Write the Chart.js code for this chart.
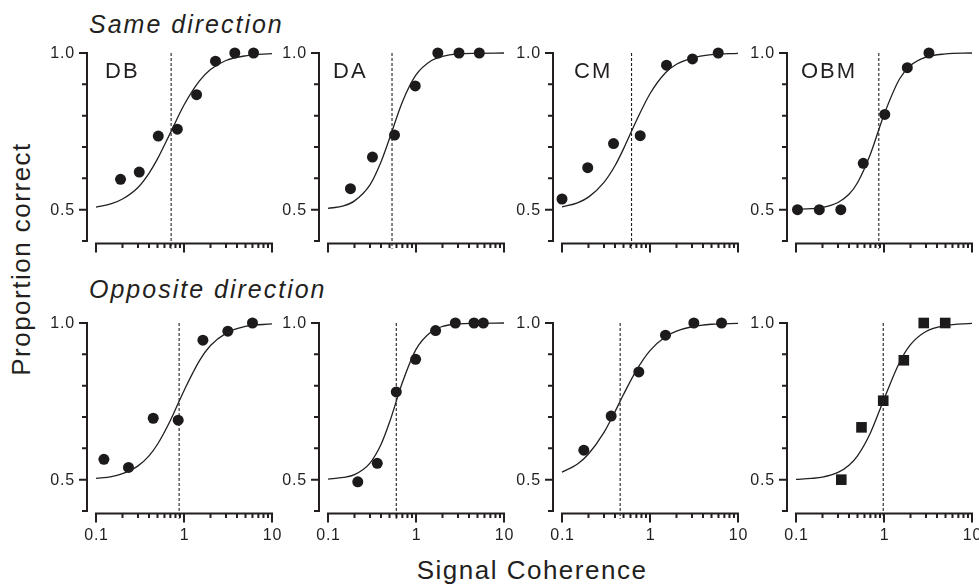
<!DOCTYPE html>
<html>
<head>
<meta charset="utf-8">
<script src="https://cdn.jsdelivr.net/npm/chart.js@4.4.1/dist/chart.umd.min.js"></script>
<style>
    body { margin: 0; width: 979px; height: 585px; background: #fff; position: relative; overflow: hidden;
           font-family: "Liberation Sans", Arial, sans-serif; color: #231f20; }
    canvas { position: absolute; }
    .txt { position: absolute; white-space: nowrap; line-height: 1; }
    .row-title { font-size: 25px; font-style: italic; letter-spacing: 2px; left: 89px; }
    .axis-title { font-size: 26px; letter-spacing: 1.5px; }
</style>
</head>
<body>
<div class="txt row-title" style="top: 12px;">Same direction</div>
<div class="txt row-title" style="top: 277px;">Opposite direction</div>
<div class="txt axis-title" style="left: 21px; top: 259px; transform: translate(-50%, -50%) rotate(-90deg);">Proportion correct</div>
<div class="txt axis-title" style="left: 532px; top: 557px; transform: translateX(-50%);">Signal Coherence</div>

<script>
// observers (top row only carries the names)
const observers = ['DB', 'DA', 'CM', 'OBM'];

// axis ticks
const xMajor = [0.1, 1, 10];
const xMajorLabels = ['0.1', '1', '10'];
const xMinor = [0.2, 0.3, 0.4, 0.5, 0.6, 0.7, 0.8, 0.9, 2, 3, 4, 5, 6, 7, 8, 9];
const yMajor = [0.5, 1.0];
const yMajorLabels = ['0.5', '1.0'];
const yMinor = [0.4, 0.6, 0.7, 0.8, 0.9];

const fitX = [0.1, 0.15, 0.2, 0.3, 0.4, 0.5, 0.7, 1, 1.5, 2, 3, 5, 10];

// --- Same direction ---
const sameX = [
    [0.19, 0.31, 0.51, 0.84, 1.39, 2.28, 3.78, 6.17],
    [0.18, 0.32, 0.57, 0.98, 1.77, 3.08, 5.24],
    [0.1, 0.196, 0.385, 0.774, 1.54, 3.04, 5.96],
    [0.104, 0.184, 0.323, 0.581, 1.02, 1.84, 3.24]
];
const sameY = [
    [0.597, 0.62, 0.735, 0.757, 0.867, 0.974, 1.0, 1.0],
    [0.567, 0.668, 0.738, 0.895, 1.0, 1.0, 1.0],
    [0.534, 0.634, 0.711, 0.736, 0.961, 0.981, 1.0],
    [0.5, 0.5, 0.5, 0.648, 0.804, 0.953, 1.0]
];
const sameFit = [
    [0.508, 0.519, 0.534, 0.571, 0.616, 0.662, 0.745, 0.834, 0.911, 0.947, 0.976, 0.991, 0.998],
    [0.504, 0.512, 0.528, 0.579, 0.652, 0.727, 0.844, 0.930, 0.976, 0.989, 0.997, 0.999, 1.0],
    [0.509, 0.522, 0.540, 0.587, 0.640, 0.694, 0.784, 0.870, 0.937, 0.964, 0.984, 0.995, 0.999],
    [0.501, 0.503, 0.507, 0.523, 0.549, 0.586, 0.677, 0.803, 0.917, 0.960, 0.987, 0.997, 1.0]
];
const sameThreshold = [0.714, 0.534, 0.617, 0.873];

// --- Opposite direction ---
const oppX = [
    [0.123, 0.234, 0.447, 0.859, 1.64, 3.15, 6.0],
    [0.218, 0.363, 0.597, 0.99, 1.67, 2.8, 4.56, 5.82],
    [0.177, 0.362, 0.746, 1.5, 3.15, 6.5],
    [0.327, 0.555, 0.98, 1.68, 2.83, 4.96]
];
const oppY = [
    [0.565, 0.539, 0.696, 0.69, 0.945, 0.974, 1.0],
    [0.493, 0.552, 0.78, 0.884, 0.976, 1.0, 1.0, 1.0],
    [0.594, 0.703, 0.844, 0.961, 1.0, 1.0],
    [0.5, 0.667, 0.752, 0.881, 1.0, 1.0]
];
const oppFit = [
    [0.504, 0.510, 0.519, 0.544, 0.576, 0.613, 0.689, 0.784, 0.880, 0.928, 0.967, 0.989, 0.997],
    [0.502, 0.507, 0.516, 0.553, 0.612, 0.683, 0.810, 0.916, 0.973, 0.989, 0.997, 0.999, 1.0],
    [0.524, 0.550, 0.582, 0.651, 0.717, 0.772, 0.849, 0.912, 0.956, 0.974, 0.988, 0.996, 0.999],
    [0.501, 0.504, 0.508, 0.523, 0.546, 0.576, 0.649, 0.757, 0.874, 0.931, 0.973, 0.992, 0.999]
];
const oppThreshold = [0.88, 0.597, 0.458, 0.98];

// layout of the 2x4 grid (plot area = 0.1..10 by 0.4..1.0)
const colLeft = [96, 328, 562, 796];
const rowTop = [53, 323];
const plotW = 176, plotH = 188;
const pad = { left: 62, right: 14, top: 20, bottom: 48 };
const nameOffset = [9, 5, 12, 5];
const ink = '#231f20';
const fontFam = '"Liberation Sans", Arial, sans-serif';

// draws the detached axes (y axis off to the left, x axis just below)
const detachedAxes = {
    id: 'detachedAxes',
    beforeDatasetsDraw(chart, args, opts) {
        const { ctx, chartArea, scales: { x, y } } = chart;
        const axisX = chartArea.left - 9;
        const baseY = y.getPixelForValue(0.4) + 2.5;
        ctx.save();
        ctx.strokeStyle = ink;
        ctx.lineWidth = 2;
        ctx.beginPath();
        // y axis
        ctx.moveTo(axisX, y.getPixelForValue(1.0) - 1);
        ctx.lineTo(axisX, y.getPixelForValue(0.4) + 1);
        yMajor.forEach(v => { const py = y.getPixelForValue(v); ctx.moveTo(axisX, py); ctx.lineTo(axisX - 8, py); });
        yMinor.forEach(v => { const py = y.getPixelForValue(v); ctx.moveTo(axisX, py); ctx.lineTo(axisX - 5, py); });
        // x axis
        ctx.moveTo(x.getPixelForValue(0.1) - 1, baseY);
        ctx.lineTo(x.getPixelForValue(10) + 1, baseY);
        xMajor.forEach(v => { const px = x.getPixelForValue(v); ctx.moveTo(px, baseY); ctx.lineTo(px, baseY + 9); });
        xMinor.forEach(v => { const px = x.getPixelForValue(v); ctx.moveTo(px, baseY); ctx.lineTo(px, baseY + 4.5); });
        ctx.stroke();

        ctx.fillStyle = ink;
        ctx.font = '16px ' + fontFam;
        ctx.letterSpacing = '0.8px';
        ctx.textAlign = 'right';
        ctx.textBaseline = 'middle';
        yMajor.forEach((v, i) => ctx.fillText(yMajorLabels[i], axisX - 12, y.getPixelForValue(v) + 0.5));
        if (opts.xLabels) {
            ctx.textAlign = 'center';
            xMajor.forEach((v, i) => ctx.fillText(xMajorLabels[i], x.getPixelForValue(v) + 0.5, baseY + 22));
        }
        if (opts.name) {
            ctx.font = '22px ' + fontFam;
            ctx.letterSpacing = '2px';
            ctx.textAlign = 'left';
            ctx.textBaseline = 'alphabetic';
            ctx.fillText(opts.name, chartArea.left + opts.nameDx, chartArea.top + 25);
        }
        ctx.restore();
    }
};

function makePanel(row, col, xs, ys, fit, threshold, square) {
    const canvas = document.createElement('canvas');
    canvas.width = pad.left + plotW + pad.right;
    canvas.height = pad.top + plotH + pad.bottom;
    canvas.style.left = (colLeft[col] - pad.left) + 'px';
    canvas.style.top = (rowTop[row] - pad.top) + 'px';
    document.body.appendChild(canvas);

    new Chart(canvas, {
        type: 'scatter',
        data: {
            datasets: [
                {
                    // fitted psychometric curve
                    data: fitX.map((v, i) => ({ x: v, y: fit[i] })),
                    showLine: true,
                    borderColor: ink,
                    borderWidth: 1.3,
                    pointRadius: 0,
                    cubicInterpolationMode: 'monotone',
                    clip: false
                },
                {
                    // threshold marker
                    data: [{ x: threshold, y: 1.0 }, { x: threshold, y: 0.375 }],
                    showLine: true,
                    borderColor: ink,
                    borderWidth: 1.1,
                    borderDash: [3, 2],
                    pointRadius: 0,
                    clip: false
                },
                {
                    data: xs.map((v, i) => ({ x: v, y: ys[i] })),
                    pointStyle: square ? 'rect' : 'circle',
                    pointRadius: square ? 7.5 : 5.5,
                    backgroundColor: '#1c1a1b',
                    borderColor: '#1c1a1b',
                    borderWidth: 0,
                    clip: false
                }
            ]
        },
        options: {
            responsive: false,
            animation: false,
            devicePixelRatio: 1,
            layout: { padding: pad },
            scales: {
                x: { type: 'logarithmic', min: 0.1, max: 10, display: false },
                y: { type: 'linear', min: 0.4, max: 1.0, display: false }
            },
            plugins: {
                legend: { display: false },
                tooltip: { enabled: false },
                detachedAxes: {
                    xLabels: row === 1,
                    name: row === 0 ? observers[col] : null,
                    nameDx: nameOffset[col]
                }
            }
        },
        plugins: [detachedAxes]
    });
}

for (let c = 0; c < 4; c++) {
    makePanel(0, c, sameX[c], sameY[c], sameFit[c], sameThreshold[c], false);
    makePanel(1, c, oppX[c], oppY[c], oppFit[c], oppThreshold[c], c === 3);
}
</script>
</body>
</html>
